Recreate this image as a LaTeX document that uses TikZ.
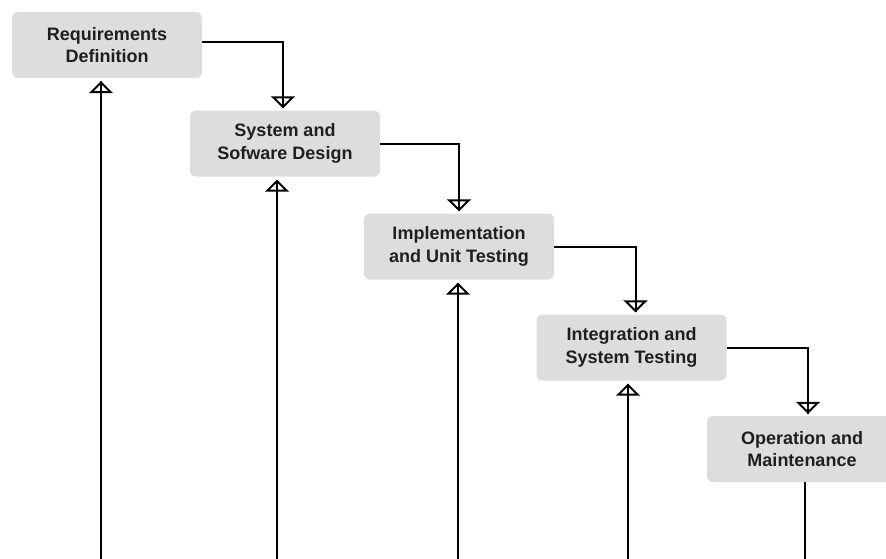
\documentclass[tikz,border=0pt]{standalone}
\usepackage{fontspec}
\setmainfont{Liberation Sans}
\usetikzlibrary{arrows.meta}
\definecolor{boxgray}{RGB}{221,221,221}

\begin{document}
\begin{tikzpicture}[x=1pt, y=-1pt,
    fase/.style={fill=boxgray, rounded corners=6pt, minimum width=190pt, minimum height=66pt,
      align=center, text=black!88, font=\bfseries\fontsize{18}{22.5}\selectfont},
    seta/.style={line width=2pt, -{Triangle[open, length=12pt, width=24pt]},
      shorten >=2pt, postaction={draw, arrows=-}}]

    \useasboundingbox (0,0) rectangle (886,558);
    \clip (0,0) rectangle (886,558);

    % fases
    \node[fase] (req) at (107,45) {Requirements\\Definition};
    \node[fase] (sys) at (285,143.5) {System and\\Sofware Design};
    \node[fase] (impl) at (459,246.5) {Implementation\\and Unit Testing};
    \node[fase] (integ) at (631.5,347.5) {Integration and\\System Testing};
    \node[fase] (ops) at (802,449) {Operation and\\Maintenance};

    % descida em cascata
    \draw[seta] ([yshift=3pt]req.east) -| ([xshift=-2pt]sys.north);
    \draw[seta] (sys.east) -| (impl.north);
    \draw[seta] (impl.east) -| ([xshift=4pt]integ.north);
    \draw[seta] (integ.east) -| ([xshift=6pt]ops.north);

    % retornos
    \coordinate (b1) at (101,560);
    \coordinate (b2) at (277,560);
    \coordinate (b3) at (458,560);
    \coordinate (b4) at (628,560);
    \draw[seta, shorten >=3pt] (b1) -- (b1 |- req.south);
    \draw[seta, shorten >=3pt] (b2) -- (b2 |- sys.south);
    \draw[seta, shorten >=3pt] (b3) -- (b3 |- impl.south);
    \draw[seta, shorten >=3pt] (b4) -- (b4 |- integ.south);
    \draw[line width=2pt] ([xshift=3pt]ops.south) -- ([xshift=3pt]ops.south |- b1);
\end{tikzpicture}
\end{document}
